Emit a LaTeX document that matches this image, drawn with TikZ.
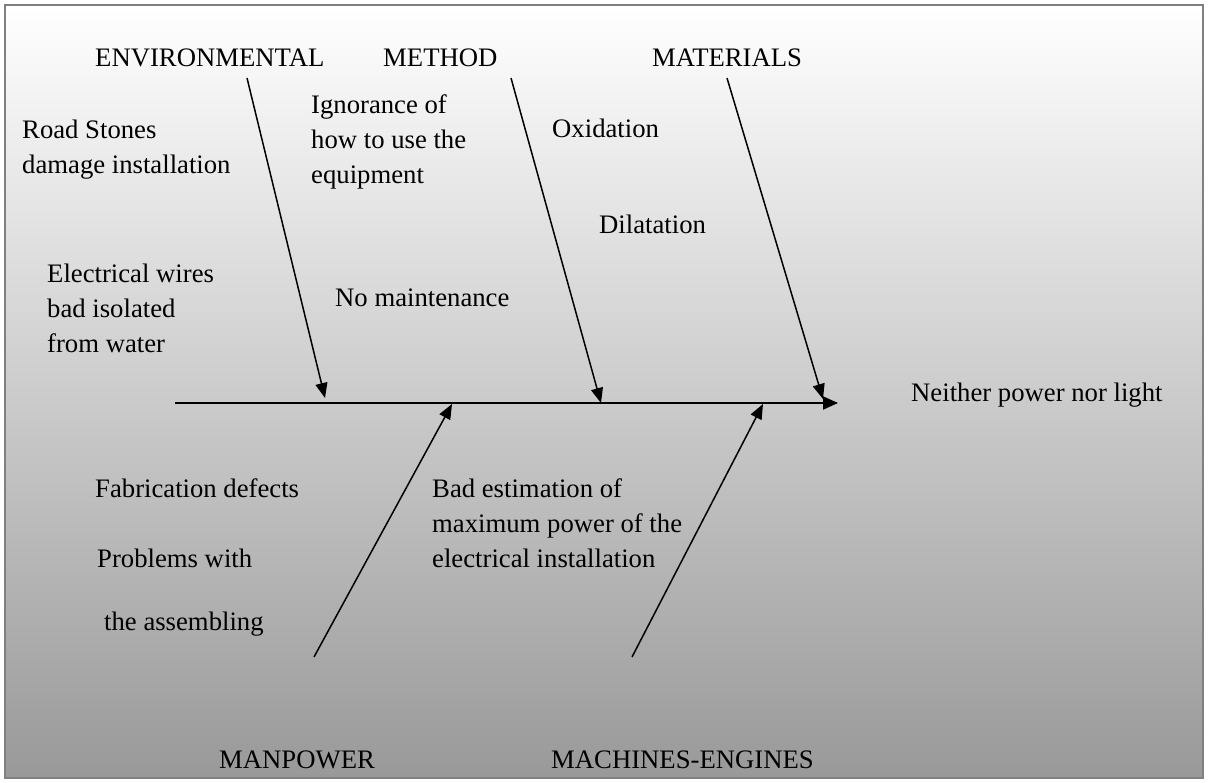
\documentclass[tikz,border=0pt]{standalone}
\usepackage{fontspec}
\setmainfont{Liberation Serif}
\usetikzlibrary{arrows.meta}
\definecolor{bgbottom}{RGB}{153,153,153}
\definecolor{framecol}{RGB}{128,128,128}
\tikzset{
  lbl/.style={anchor=north west, inner sep=0pt, align=left, font=\fontsize{26.7}{35}\selectfont},
  cat/.style={anchor=base west, inner sep=0pt, font=\fontsize{26.7}{35}\selectfont},
  branch/.style={line width=1.5pt, -{Triangle[length=15pt,width=12pt]}},
  spine/.style={line width=2pt, -{Triangle[length=15pt,width=13pt]}}
}
\begin{document}
\begin{tikzpicture}[x=1pt,y=-1pt]
\useasboundingbox (0,0) rectangle (1208,783);
\fill[white] (0,0) rectangle (1208,783);
\shade[top color=white, bottom color=bgbottom] (6,6) rectangle (1202,777);
\draw[framecol, line width=2pt] (5,5) rectangle (1203,778);

% category labels
\node[cat] (env) at (95,67) {ENVIRONMENTAL};
\node[cat] (meth) at (383,67) {METHOD};
\node[cat] (mat) at (652,67) {MATERIALS};
\node[cat] (man) at (219,768) {MANPOWER};
\node[cat] (mach) at (551,768) {MACHINES-ENGINES};
\node[cat] (effect) at (911,402) {Neither power nor light};

% cause texts
\node[lbl] (road) at (22,113.5) {\strut Road Stones\\damage installation};
\node[lbl] (ign) at (311,88.5) {\strut Ignorance of\\how to use the\\equipment};
\node[lbl] (oxi) at (552,112.5) {\strut Oxidation};
\node[lbl] (dil) at (599,208.5) {\strut Dilatation};
\node[lbl] (elec) at (47,257.5) {\strut Electrical wires\\bad isolated\\from water};
\node[lbl] (nomain) at (335,281.5) {\strut No maintenance};
\node[lbl] (fab) at (95,472.5) {\strut Fabrication defects};
\node[lbl] (prob) at (97,542.5) {\strut Problems with};
\node[lbl] (assem) at (104,605.5) {\strut the assembling};
\node[lbl] (bad) at (432,472.5) {\strut Bad estimation of\\maximum power of the\\electrical installation};

% coordinates
\coordinate (spA) at (175,403);
\coordinate (spB) at (838,403);
\coordinate (envS) at (247,78);
\coordinate (envE) at (325,398);
\coordinate (methS) at (511,78);
\coordinate (methE) at (601,403);
\coordinate (matS) at (727,78);
\coordinate (matE) at (823,399);
\coordinate (manS) at (314,657);
\coordinate (manE) at (452,404);
\coordinate (machS) at (632,657);
\coordinate (machE) at (763,404);

% spine and branches
\draw[spine] (spA) -- (spB);
\draw[branch] (envS) -- (envE);
\draw[branch] (methS) -- (methE);
\draw[branch] (matS) -- (matE);
\draw[branch] (manS) -- (manE);
\draw[branch] (machS) -- (machE);
\end{tikzpicture}
\end{document}
